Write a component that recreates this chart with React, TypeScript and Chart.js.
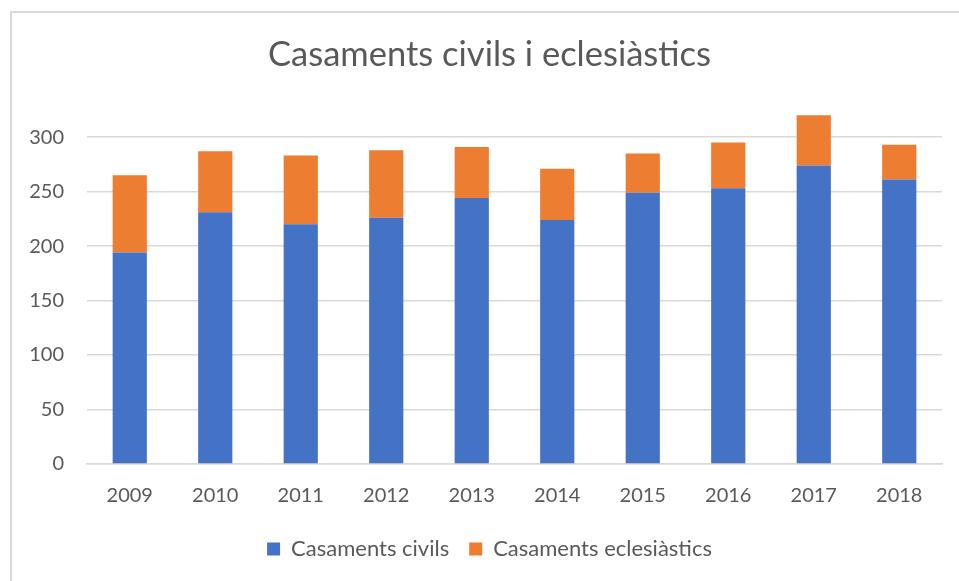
import React, { useEffect, useRef } from "react";
import { Chart, registerables } from "chart.js";

Chart.register(...registerables);

const categories = ["2009", "2010", "2011", "2012", "2013", "2014", "2015", "2016", "2017", "2018"];
const civils = [194, 231, 220, 226, 244, 224, 249, 253, 274, 261];
const eclesiastics = [71, 56, 63, 62, 47, 47, 36, 42, 46, 32];
const titleText = "Casaments civils i eclesiàstics";
const seriesNames = ["Casaments civils", "Casaments eclesiàstics"];

const FONT = "Lato, 'Liberation Sans', sans-serif";

const borderPlugin = {
  id: "frameBorder",
  beforeDraw(chart: any) {
    const ctx = chart.ctx;
    ctx.save();
    ctx.fillStyle = "#ffffff";
    ctx.fillRect(0, 0, chart.width, chart.height);
    ctx.fillStyle = "#d9d9d9";
    ctx.fillRect(10, 11, 2, chart.height - 11);
    ctx.fillRect(10, 11, chart.width - 10, 2);
    ctx.restore();
  },
};

export default function App() {
  const ref = useRef<HTMLCanvasElement | null>(null);
  useEffect(() => {
    if (!ref.current) return;
    const chart = new Chart(ref.current, {
      type: "bar",
      data: {
        labels: categories,
        datasets: [
          {
            label: seriesNames[0],
            data: civils,
            backgroundColor: "#4472C4",
            borderWidth: 0,
            categoryPercentage: 0.4,
            barPercentage: 1,
          },
          {
            label: seriesNames[1],
            data: eclesiastics,
            backgroundColor: "#ED7D31",
            borderWidth: 0,
            categoryPercentage: 0.4,
            barPercentage: 1,
          },
        ],
      },
      options: {
        responsive: false,
        animation: false,
        layout: { padding: { left: 20, right: 0, top: 0, bottom: 11 } },
        plugins: {
          title: {
            display: true,
            text: titleText,
            color: "#595959",
            font: { family: FONT, size: 34.5, weight: "normal" },
            padding: { top: 34, bottom: 29 },
          },
          legend: {
            position: "bottom",
            labels: {
              color: "#595959",
              font: { family: FONT, size: 22 },
              boxWidth: 13,
              boxHeight: 13,
              padding: 20,
            },
          },
          tooltip: { enabled: false },
        },
        scales: {
          x: {
            stacked: true,
            grid: { display: false, drawTicks: false },
            border: { display: true, color: "#d9d9d9", width: 1.5 },
            ticks: { color: "#595959", font: { family: FONT, size: 20 }, padding: 20 },
            afterFit: (s: any) => {
              s.height -= 10;
            },
          },
          y: {
            stacked: true,
            min: 0,
            max: 330,
            grid: { color: "#d9d9d9", lineWidth: 1.5, drawTicks: false },
            border: { display: false },
            ticks: {
              stepSize: 50,
              color: "#595959",
              font: { family: FONT, size: 20 },
              padding: 23,
            },
            afterBuildTicks: (s: any) => {
              s.ticks = s.ticks.filter((t: any) => t.value % 50 === 0);
            },
            afterFit: (s: any) => {
              s.width = 67;
            },
          },
          y2: {
            position: "right",
            display: true,
            grid: { display: false, drawTicks: false },
            border: { display: false },
            ticks: { display: false },
            afterFit: (s: any) => {
              s.width = 17;
            },
          },
        },
      },
      plugins: [borderPlugin],
    } as any);
    return () => chart.destroy();
  }, []);
  return (
    <div style={{ position: "fixed", left: 0, top: 0, width: 959, height: 581, background: "#fff" }}>
      <canvas ref={ref} width={959} height={581} style={{ display: "block" }} />
    </div>
  );
}
